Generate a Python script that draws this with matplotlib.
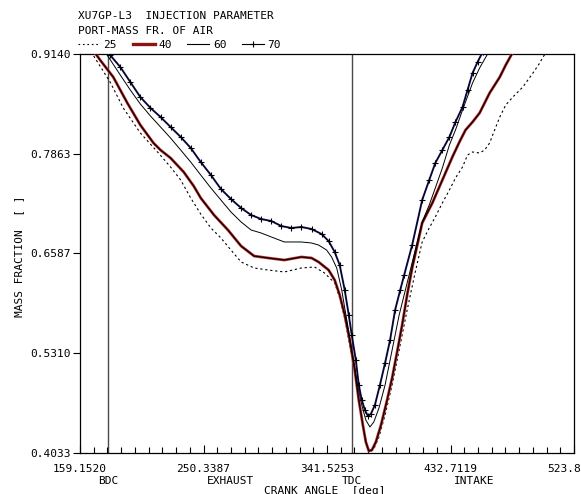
import numpy as np
import matplotlib
matplotlib.use("Agg")
import matplotlib.pyplot as plt
from matplotlib.ticker import FixedLocator
from matplotlib.transforms import blended_transform_factory

plt.rcParams['font.family'] = ['DejaVu Sans Mono']

# Crank angle [deg] and port mass fraction of air for each injection parameter
angle_25 = [159.2, 168.8, 181.4, 191.1, 203.7, 216.4, 226.0, 233.5, 240.9, 248.3,
            255.8, 263.2, 270.6, 278.1, 287.7, 298.1, 310.0, 322.6, 332.3, 339.7,
            347.2, 350.9, 354.6, 358.3, 362.0, 365.0, 368.0, 371.0, 373.2, 376.1,
            379.9, 384.4, 389.6, 394.8, 400.7, 406.7, 411.8, 417.0, 421.5, 426.7,
            431.9, 436.4, 441.6, 445.3, 449.0, 454.2, 457.9, 461.6, 465.3, 469.1,
            473.5, 478.7, 486.1, 493.6, 498.1, 501.0, 504.7]
frac_25 = [0.9383, 0.9127, 0.8781, 0.8449, 0.8129, 0.7886, 0.7694, 0.7527, 0.7297, 0.7092,
           0.6913, 0.6785, 0.6631, 0.6478, 0.6401, 0.6375, 0.6350, 0.6401, 0.6414, 0.6337,
           0.6209, 0.6017, 0.5761, 0.5415, 0.5070, 0.4711, 0.4391, 0.4135, 0.4046, 0.4084,
           0.4238, 0.4519, 0.4903, 0.5351, 0.5863, 0.6350, 0.6734, 0.6913, 0.7054, 0.7233,
           0.7399, 0.7553, 0.7694, 0.7847, 0.7886, 0.7873, 0.7911, 0.8001, 0.8167, 0.8334,
           0.8487, 0.8589, 0.8717, 0.8897, 0.9012, 0.9101, 0.9191]

angle_40 = [159.2, 170.3, 174.0, 183.7, 188.9, 194.1, 203.7, 213.4, 218.6, 226.0,
            235.7, 243.1, 248.3, 258.1, 268.4, 278.1, 287.7, 298.1, 310.0, 322.6,
            330.1, 335.3, 342.7, 347.2, 350.9, 354.6, 358.3, 362.0, 365.0, 368.0,
            370.2, 372.4, 374.7, 377.6, 381.4, 385.9, 389.6, 393.3, 397.0, 400.7,
            404.4, 408.2, 411.8, 419.3, 426.7, 434.1, 439.3, 443.8, 449.0, 454.2,
            461.6, 469.1, 473.5, 478.0, 482.4]
frac_40 = [0.9447, 0.9153, 0.9063, 0.8845, 0.8679, 0.8513, 0.8231, 0.8001, 0.7911, 0.7809,
           0.7630, 0.7450, 0.7297, 0.7079, 0.6887, 0.6682, 0.6554, 0.6529, 0.6503, 0.6542,
           0.6529, 0.6478, 0.6375, 0.6247, 0.6055, 0.5799, 0.5479, 0.5095, 0.4711, 0.4391,
           0.4174, 0.4059, 0.4071, 0.4174, 0.4391, 0.4711, 0.4993, 0.5326, 0.5671, 0.6055,
           0.6401, 0.6695, 0.6977, 0.7233, 0.7527, 0.7822, 0.8014, 0.8167, 0.8270, 0.8385,
           0.8641, 0.8845, 0.8999, 0.9140, 0.9255]

angle_60 = [159.2, 179.2, 188.9, 196.3, 203.7, 211.2, 218.6, 226.0, 233.5, 240.9,
            248.3, 255.8, 263.2, 270.6, 278.1, 285.5, 292.9, 300.4, 310.0, 322.6,
            330.1, 335.3, 341.2, 344.9, 348.7, 352.4, 356.1, 359.8, 363.5, 367.2,
            370.2, 373.2, 376.1, 379.9, 384.4, 389.6, 394.8, 400.7, 406.7, 411.8,
            417.0, 421.5, 426.7, 431.9, 436.4, 441.6, 449.0, 454.2, 460.1, 465.3]
frac_60 = [0.9447, 0.9127, 0.8871, 0.8679, 0.8500, 0.8346, 0.8206, 0.8065, 0.7911, 0.7757,
           0.7591, 0.7425, 0.7271, 0.7118, 0.6990, 0.6887, 0.6849, 0.6798, 0.6734, 0.6734,
           0.6721, 0.6695, 0.6631, 0.6542, 0.6401, 0.6119, 0.5735, 0.5351, 0.4967, 0.4647,
           0.4455, 0.4366, 0.4430, 0.4609, 0.4903, 0.5351, 0.5799, 0.6209, 0.6631, 0.6990,
           0.7207, 0.7425, 0.7681, 0.7975, 0.8167, 0.8423, 0.8769, 0.8961, 0.9140, 0.9293]

angle_70 = [159.2, 181.4, 188.9, 196.3, 203.7, 211.2, 218.6, 226.0, 233.5, 240.9,
            248.3, 255.8, 263.2, 270.6, 278.1, 285.5, 292.9, 300.4, 307.8, 315.2,
            322.6, 330.1, 337.5, 342.7, 347.2, 350.9, 354.6, 357.6, 359.8, 362.8,
            365.0, 367.2, 369.5, 371.7, 373.9, 376.9, 380.6, 384.4, 388.1, 391.8,
            395.6, 398.5, 404.4, 411.8, 417.0, 421.5, 426.7, 431.9, 436.4, 441.6,
            445.3, 449.0, 452.7, 456.4, 463.9]
frac_70 = [0.9575, 0.9127, 0.8973, 0.8781, 0.8589, 0.8449, 0.8334, 0.8206, 0.8078, 0.7937,
           0.7757, 0.7591, 0.7412, 0.7284, 0.7169, 0.7079, 0.7028, 0.7002, 0.6938, 0.6913,
           0.6926, 0.6900, 0.6836, 0.6746, 0.6606, 0.6439, 0.6119, 0.5799, 0.5543, 0.5223,
           0.4903, 0.4711, 0.4583, 0.4507, 0.4532, 0.4647, 0.4903, 0.5185, 0.5479, 0.5863,
           0.6119, 0.6311, 0.6695, 0.7271, 0.7527, 0.7745, 0.7911, 0.8078, 0.8270, 0.8462,
           0.8679, 0.8897, 0.9037, 0.9165, 0.9383]

x_ticks = [159.1520, 250.3387, 341.5253, 432.7119, 523.8985]
x_tick_labels = ["159.1520", "250.3387", "341.5253", "432.7119", "523.8985"]
y_ticks = [0.4033, 0.5310, 0.6587, 0.7863, 0.9140]
y_tick_labels = ["0.4033", "0.5310", "0.6587", "0.7863", "0.9140"]

stroke_marks = [(180.0, "BDC"), (360.0, "TDC")]
phase_labels = [(270.0, "EXHAUST"), (450.0, "INTAKE")]

W, H = 581, 494
fig = plt.figure(figsize=(W / 100, H / 100), dpi=100)
ax = fig.add_axes([80 / W, 1 - 453 / H, (574 - 80) / W, (453 - 54) / H])

fs = 8.0

# dead-centre markers
for ang, _ in stroke_marks:
    ax.axvline(ang, color="#4a4a4a", lw=1.0, zorder=1)

ax.plot(angle_25, frac_25, color="black", lw=0.8, ls=(0, (2, 2.5)), zorder=3)
ax.plot(angle_40, frac_40, color="#c42a2a", lw=2.0, zorder=3)
ax.plot(angle_40, frac_40, color="black", lw=0.9, zorder=4)
ax.plot(angle_60, frac_60, color="black", lw=0.7, zorder=3)
ax.plot(angle_70, frac_70, color="#1e1e78", lw=1.4, zorder=3)
ax.plot(angle_70, frac_70, color="black", lw=0.6, marker="+", ms=5, mew=0.8, zorder=4)

ax.set_xlim(x_ticks[0], x_ticks[-1])
ax.set_ylim(y_ticks[0], y_ticks[-1])

# nine minor divisions per major interval, anchored at the first tick
minor_step = (x_ticks[1] - x_ticks[0]) / 9
ax.xaxis.set_major_locator(FixedLocator(x_ticks))
ax.xaxis.set_minor_locator(FixedLocator(x_ticks[0] + minor_step * np.arange(37)))
ax.set_xticklabels(x_tick_labels, fontsize=fs)
ax.tick_params(axis="x", which="major", direction="in", length=6, width=0.8, pad=8)
ax.tick_params(axis="x", which="minor", direction="in", length=4, width=0.8)

ax.yaxis.set_major_locator(FixedLocator(y_ticks))
ax.set_yticklabels(y_tick_labels, fontsize=fs)
ax.tick_params(axis="y", direction="out", length=5, width=0.8, pad=2)

for sp in ax.spines.values():
    sp.set_linewidth(0.9)

trans = blended_transform_factory(ax.transData, fig.transFigure)
for ang, name in stroke_marks + phase_labels:
    ax.text(ang, 1 - 481 / H, name, transform=trans, ha="center", va="center",
            fontsize=fs, clip_on=False)

fig.text(325 / W, 1 - 491 / H, "CRANK ANGLE  [deg]", ha="center", va="center", fontsize=fs)
fig.text(19 / W, 1 - 256 / H, "MASS FRACTION  [ ]", ha="center", va="center",
         rotation=90, fontsize=fs)

fig.text(78 / W, 1 - 16 / H, "XU7GP-L3  INJECTION PARAMETER", ha="left", va="center", fontsize=fs)
fig.text(78 / W, 1 - 31 / H, "PORT-MASS FR. OF AIR", ha="left", va="center", fontsize=fs)

handles = [
    plt.Line2D([], [], color="black", lw=0.8, ls=(0, (1.5, 2.5))),
    plt.Line2D([], [], color="#8e1414", lw=2.4),
    plt.Line2D([], [], color="black", lw=0.8),
    plt.Line2D([], [], color="black", lw=0.8, marker="+", ms=5, mew=0.8),
]
fig.legend(handles, ["25", "40", "60", "70"], loc="center left", ncol=4,
           bbox_to_anchor=(78 / W, 1 - 45 / H), frameon=False, fontsize=fs,
           handlelength=2.0, handletextpad=0.3, columnspacing=1.4, borderpad=0, borderaxespad=0)

fig.savefig("out.png", dpi=100)
